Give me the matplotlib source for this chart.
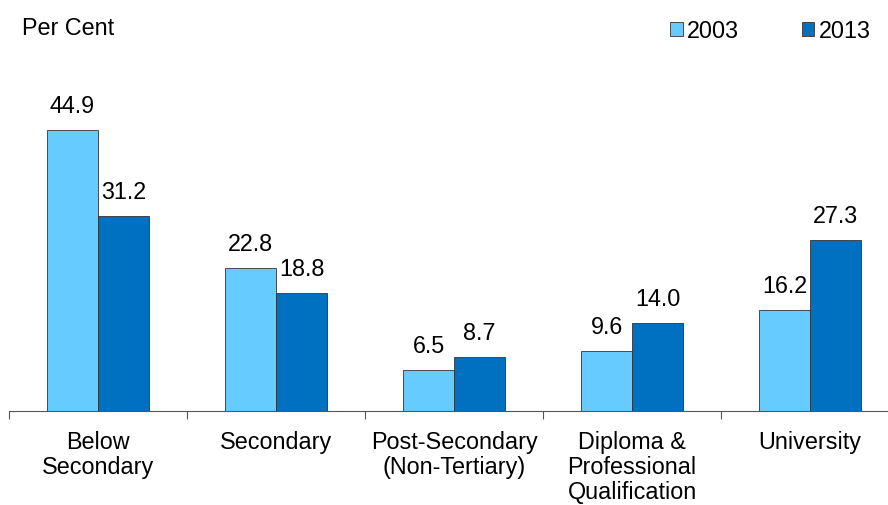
import matplotlib
matplotlib.use("Agg")
import matplotlib.pyplot as plt
import numpy as np

plt.rcParams['font.family'] = ['Liberation Sans', 'DejaVu Sans']

categories = ["Below\nSecondary", "Secondary", "Post-Secondary\n(Non-Tertiary)",
              "Diploma &\nProfessional\nQualification", "University"]
years = ["2003", "2013"]
values_2003 = [44.9, 22.8, 6.5, 9.6, 16.2]
values_2013 = [31.2, 18.8, 8.7, 14.0, 27.3]
colors = ["#66CCFF", "#0070C0"]
FS = 16.8


def main():
    fig = plt.figure(figsize=(8.88, 5.05), dpi=100)
    # axes from x=9px to right edge, baseline at y=411px
    ax = fig.add_axes([9 / 888, 1 - 411 / 505, 879 / 888, 375.6 / 505])
    x = np.arange(len(categories))
    w = 0.286
    b1 = ax.bar(x - w / 2, values_2003, w, color=colors[0], edgecolor="#333333",
                linewidth=0.6, label=years[0])
    b2 = ax.bar(x + w / 2, values_2013, w, color=colors[1], edgecolor="#333333",
                linewidth=0.6, label=years[1])
    for bars, vals in ((b1, values_2003), (b2, values_2013)):
        for r, v in zip(bars, vals):
            ax.text(r.get_x() + r.get_width() / 2, v + 2.7, f"{v:.1f}",
                    ha="center", va="baseline", fontsize=FS)

    ax.set_ylim(0, 60)
    ax.set_xlim(-0.5, -0.5 + 879 / 178)
    ax.set_yticks([])
    for s in ("left", "right", "top"):
        ax.spines[s].set_visible(False)
    ax.spines["bottom"].set_color("#555555")
    ax.set_xticks(np.arange(-0.5, 4.0, 1.0))
    ax.set_xticklabels([])
    ax.tick_params(axis="x", length=6, color="#555555")
    for i, c in enumerate(categories):
        ax.text(i, -3.2, c, ha="center", va="top", fontsize=FS,
                linespacing=1.1)

    fig.text(22 / 888, 1 - 35 / 505, "Per Cent", fontsize=FS, va="baseline")
    fig.legend(handles=[b1, b2], labels=years, loc="center right",
               bbox_to_anchor=(882 / 888, 1 - 31 / 505), ncol=2, frameon=False,
               fontsize=FS, handlelength=0.55, handleheight=0.55,
               handletextpad=0.17, columnspacing=2.7, borderpad=0)

    fig.savefig("out.png", dpi=100)
    return 0


if __name__ == '__main__':
    main()
